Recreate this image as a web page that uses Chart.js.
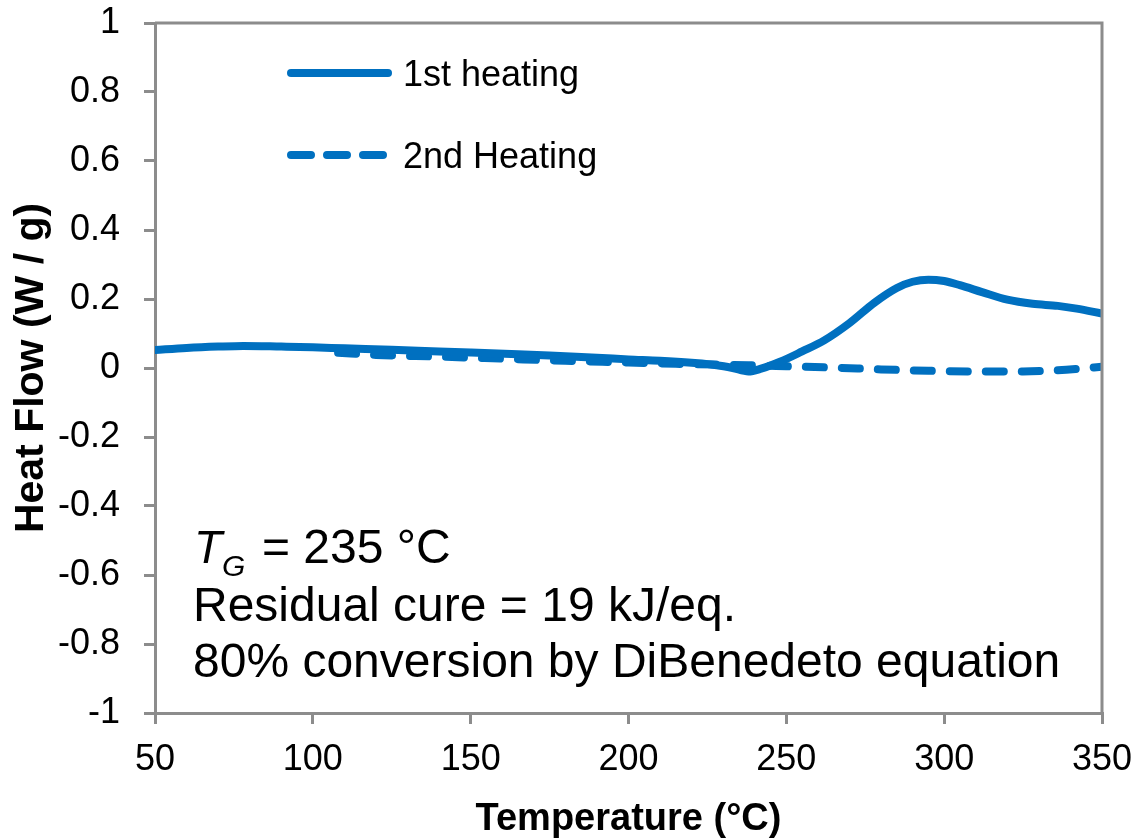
<!DOCTYPE html>
<html>
<head>
<meta charset="utf-8">
<script src="https://cdn.jsdelivr.net/npm/chart.js@4/dist/chart.umd.min.js"></script>
<style>
    html, body { margin: 0; padding: 0; background: #fff; }
    canvas { display: block; }
</style>
</head>
<body>
<canvas id="dscChart" width="1139" height="839"></canvas>
<script>
// Temperature (°C) and heat flow (W/g)
const firstTemps = [50, 60, 70, 78, 90, 100, 110, 125, 140, 150, 165, 180, 190, 200, 210, 220, 228, 233, 238, 242, 248, 255, 262, 270, 278, 285, 290, 295, 300, 305, 312, 320, 328, 336, 342, 350];
const firstFlow = [0.052, 0.058, 0.062, 0.064, 0.062, 0.060, 0.057, 0.053, 0.048, 0.045, 0.040, 0.034, 0.030, 0.025, 0.021, 0.015, 0.008, 0.000, -0.010, -0.002, 0.018, 0.048, 0.080, 0.130, 0.190, 0.232, 0.250, 0.256, 0.252, 0.240, 0.220, 0.198, 0.186, 0.180, 0.172, 0.158];

const secondTemps = [108, 120, 140, 160, 180, 200, 215, 228, 238, 250, 265, 280, 295, 310, 325, 335, 343, 350];
const secondFlow = [0.044, 0.038, 0.033, 0.027, 0.021, 0.016, 0.012, 0.010, 0.008, 0.005, 0.001, -0.004, -0.008, -0.010, -0.010, -0.007, -0.002, 0.004];

const seriesNames = ['1st heating', '2nd Heating'];
const noteLines = ['Residual cure = 19 kJ/eq.', '80% conversion by DiBenedeto equation'];

const blue = 'rgb(0, 112, 192)';
const axisGray = '#8c8c8c';
const fontFamily = '"Liberation Sans", Arial, sans-serif';

const toPoints = (xs, ys) => xs.map((x, i) => ({ x: x, y: ys[i] }));

// box on top/right, hand-placed legend and the text block
const extrasPlugin = {
    id: 'extras',
    afterDraw(chart) {
        const ctx = chart.ctx;
        const area = chart.chartArea;
        ctx.save();

        ctx.strokeStyle = axisGray;
        ctx.lineWidth = 3;
        ctx.beginPath();
        ctx.moveTo(area.left, area.top);
        ctx.lineTo(area.right, area.top);
        ctx.lineTo(area.right, area.bottom);
        ctx.stroke();

        // legend
        ctx.strokeStyle = blue;
        ctx.lineWidth = 8;
        ctx.lineCap = 'round';
        ctx.beginPath();
        ctx.moveTo(291, 73);
        ctx.lineTo(388, 73);
        ctx.stroke();
        ctx.setLineDash([20, 16]);
        ctx.beginPath();
        ctx.moveTo(291, 155);
        ctx.lineTo(388, 155);
        ctx.stroke();
        ctx.setLineDash([]);

        ctx.fillStyle = '#000';
        ctx.textBaseline = 'middle';
        ctx.textAlign = 'left';
        ctx.font = '36px ' + fontFamily;
        ctx.fillText(seriesNames[0], 403, 76);
        ctx.fillText(seriesNames[1], 403, 158);

        // annotation
        ctx.textBaseline = 'alphabetic';
        ctx.font = 'italic 46px ' + fontFamily;
        ctx.fillText('T', 194, 563);
        ctx.font = 'italic 30px ' + fontFamily;
        ctx.fillText('G', 222, 576);
        ctx.font = '48px ' + fontFamily;
        ctx.fillText('= 235 °C', 262, 563);
        ctx.fillText(noteLines[0], 193, 621);
        ctx.fillText(noteLines[1], 193, 677);

        ctx.restore();
    }
};

new Chart(document.getElementById('dscChart').getContext('2d'), {
    type: 'line',
    data: {
        datasets: [
            {
                label: seriesNames[0],
                data: toPoints(firstTemps, firstFlow),
                borderColor: blue,
                borderWidth: 8,
                pointRadius: 0,
                cubicInterpolationMode: 'monotone',
                borderCapStyle: 'round',
                fill: false
            },
            {
                label: seriesNames[1],
                data: toPoints(secondTemps, secondFlow),
                borderColor: blue,
                borderWidth: 8,
                borderDash: [18, 18],
                borderCapStyle: 'round',
                pointRadius: 0,
                cubicInterpolationMode: 'monotone',
                fill: false
            }
        ]
    },
    options: {
        responsive: false,
        animation: false,
        layout: {
            padding: { top: 23, right: 37, left: 0, bottom: 0 }
        },
        plugins: {
            legend: { display: false },
            tooltip: { enabled: false }
        },
        scales: {
            x: {
                type: 'linear',
                min: 50,
                max: 350,
                afterFit: (scale) => {
                    scale.height = 126;
                    scale.paddingLeft = 0;
                    scale.paddingRight = 0;
                },
                ticks: {
                    stepSize: 50,
                    color: '#000',
                    padding: 14,
                    maxRotation: 0,
                    font: { family: fontFamily, size: 36 }
                },
                grid: {
                    drawOnChartArea: false,
                    color: axisGray,
                    lineWidth: 3,
                    tickLength: 11
                },
                border: { color: axisGray, width: 3 },
                title: {
                    display: true,
                    text: 'Temperature (°C)',
                    color: '#000',
                    padding: { top: 0, bottom: 0 },
                    font: { family: fontFamily, size: 38, weight: 'bold', lineHeight: 1 }
                }
            },
            y: {
                min: -1,
                max: 1,
                afterFit: (scale) => {
                    scale.width = 155;
                    scale.paddingTop = 0;
                    scale.paddingBottom = 0;
                },
                ticks: {
                    stepSize: 0.2,
                    color: '#000',
                    padding: 24,
                    font: { family: fontFamily, size: 36 },
                    callback: (value) => Number(value.toFixed(1)).toString()
                },
                grid: {
                    drawOnChartArea: false,
                    color: axisGray,
                    lineWidth: 3,
                    tickLength: 11
                },
                border: { color: axisGray, width: 3 },
                title: {
                    display: true,
                    text: 'Heat Flow (W / g)',
                    color: '#000',
                    padding: { top: 11, bottom: 0 },
                    font: { family: fontFamily, size: 41, weight: 'bold', lineHeight: 1 }
                }
            }
        }
    },
    plugins: [extrasPlugin]
});
</script>
</body>
</html>
